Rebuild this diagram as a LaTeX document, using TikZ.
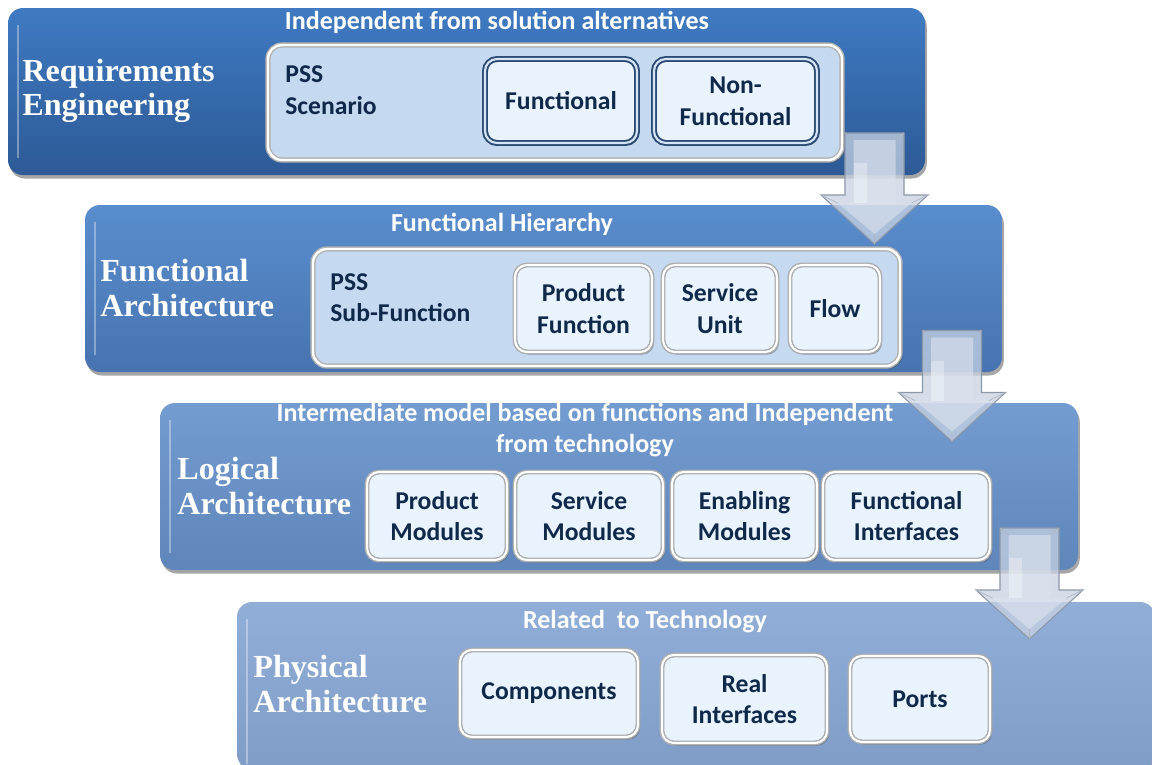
\documentclass[tikz,border=0pt]{standalone}
\usepackage{fontspec}
\setmainfont{Liberation Serif}
\newfontfamily\calibri{Carlito}
\usetikzlibrary{shadows}

\definecolor{bandA}{HTML}{3F7AC2}
\definecolor{bandAb}{HTML}{2D5A96}
\definecolor{bandB}{HTML}{5A8DCD}
\definecolor{bandBb}{HTML}{4774B0}
\definecolor{bandC}{HTML}{739CD0}
\definecolor{bandCb}{HTML}{5F86BA}
\definecolor{bandD}{HTML}{90AED8}
\definecolor{bandDb}{HTML}{809DC8}
\definecolor{panelblue}{HTML}{C5DAF1}
\definecolor{itemblue}{HTML}{E8F3FE}
\definecolor{navy}{HTML}{10294A}
\definecolor{navyedge}{HTML}{2B4B73}
\definecolor{arrowfill}{HTML}{C8D2E2}
\definecolor{arrowlight}{HTML}{DCE3EE}
\definecolor{arrowedge}{HTML}{8C97A8}

\begin{document}
\begin{tikzpicture}[x=0.02cm,y=-0.02cm,
    boxsize/.style 2 args={minimum width=#1*0.02cm,minimum height=#2*0.02cm},
    band/.style={rectangle,rounded corners=0.3cm,inner sep=0pt,outer sep=0pt,
        drop shadow={shadow xshift=1pt,shadow yshift=-2pt,opacity=.35,fill=black}},
    panel/.style={rectangle,rounded corners=0.28cm,inner sep=0pt,fill=panelblue,
        draw=gray!60,line width=0.8pt,double=white,double distance=1.4pt,
        drop shadow={shadow xshift=1.5pt,shadow yshift=-1.5pt,opacity=.45,fill=black!70}},
    item/.style={rectangle,rounded corners=0.24cm,inner sep=0pt,fill=itemblue,
        draw=gray!65,line width=0.8pt,double=white,double distance=1.2pt,
        drop shadow={shadow xshift=1.2pt,shadow yshift=-1.5pt,opacity=.45,fill=black!70},
        text=navy,align=center,font=\calibri\bfseries\fontsize{14.6pt}{18pt}\selectfont},
    darkitem/.style={item,draw=navyedge,line width=1.1pt,double=panelblue!70!white},
    bandlabel/.style={anchor=west,inner sep=0pt,align=left,text=white,
        font=\bfseries\fontsize{18.3pt}{19.5pt}\selectfont},
    heading/.style={inner sep=0pt,align=center,text=white,
        font=\calibri\bfseries\fontsize{14.8pt}{18pt}\selectfont},
    plain/.style={anchor=west,inner sep=0pt,align=left,text=navy,
        font=\calibri\bfseries\fontsize{14.6pt}{18pt}\selectfont}]

    \useasboundingbox (0,0) rectangle (1152,764);
    \clip (0,0) rectangle (1152,764);

    % --- requirements engineering
    \node[band,boxsize={917}{167},top color=bandA,bottom color=bandAb] (reqband) at (466.5,91.5) {};
    \draw[white,opacity=.35,line width=1.5pt] (18,25) -- (18,158);
    \node[heading] (reqhead) at (497,22) {Independent from solution alternatives};
    \node[bandlabel] (reqlabel) at (22,91) {Requirements\\Engineering};
    \node[panel,boxsize={574}{115}] (reqpanel) at (555,102.5) {};
    \node[plain] (pssscen) at (285,90) {PSS\\Scenario};
    \node[darkitem,boxsize={152}{84}] (func) at (561,101) {Functional};
    \node[darkitem,boxsize={163}{84}] (nonfunc) at (735.5,101) {Non-\\Functional};

    % --- functional architecture
    \node[band,boxsize={917}{167},top color=bandB,bottom color=bandBb] (funband) at (543.5,288.5) {};
    \draw[white,opacity=.35,line width=1.5pt] (95,222) -- (95,355);
    \node[heading] (funhead) at (502,224) {Functional Hierarchy};
    \node[bandlabel] (funlabel) at (100,288) {Functional\\Architecture};
    \node[panel,boxsize={587}{117}] (funpanel) at (606.5,307.5) {};
    \node[plain] (psssub) at (330,297.5) {PSS\\Sub-Function};
    \node[item,boxsize={137}{87}] (prodfunc) at (583.5,308.5) {Product\\Function};
    \node[item,boxsize={114}{87}] (servunit) at (720,308.5) {Service\\Unit};
    \node[item,boxsize={90}{87}] (flow) at (835,308.5) {Flow};

    % --- logical architecture
    \node[band,boxsize={918}{167},top color=bandC,bottom color=bandCb] (logband) at (619,486.5) {};
    \draw[white,opacity=.35,line width=1.5pt] (170,420) -- (170,553);
    \node[heading] (loghead) at (585,430) {Intermediate model based on functions and Independent\\from technology};
    \node[bandlabel] (loglabel) at (177,486) {Logical\\Architecture};
    \node[item,boxsize={140}{88}] (prodmod) at (437,516) {Product\\Modules};
    \node[item,boxsize={148}{88}] (servmod) at (589,516) {Service\\Modules};
    \node[item,boxsize={145}{88}] (enabmod) at (744.5,516) {Enabling\\Modules};
    \node[item,boxsize={167}{88}] (funcint) at (906.5,516) {Functional\\Interfaces};

    % --- physical architecture
    \node[band,boxsize={918}{167},top color=bandD,bottom color=bandDb] (phyband) at (696,685.5) {};
    \draw[white,opacity=.35,line width=1.5pt] (247,619) -- (247,764);
    \node[heading] (phyhead) at (645,622) {Related\ \ to Technology};
    \node[bandlabel] (phylabel) at (253,684) {Physical\\Architecture};
    \node[item,boxsize={178}{87}] (comp) at (549,693.5) {Components};
    \node[item,boxsize={165}{88}] (realint) at (744.5,699) {Real\\Interfaces};
    \node[item,boxsize={140}{86}] (ports) at (920,699) {Ports};

    % block arrows between the levels
    \foreach \cx/\ty in {874.5/133, 952/330.5, 1029.5/528} {
        \filldraw[fill=arrowfill,fill opacity=.75,draw=arrowedge,line width=0.6pt]
            ({\cx-29.5},{\ty}) -- ({\cx+29.5},{\ty}) -- ({\cx+29.5},{\ty+62}) --
            ({\cx+53.5},{\ty+62}) -- ({\cx},{\ty+111}) -- ({\cx-53.5},{\ty+62}) --
            ({\cx-29.5},{\ty+62}) -- cycle;
        \fill[arrowlight,fill opacity=.6]
            ({\cx-21},{\ty+7}) -- ({\cx+21},{\ty+7}) -- ({\cx+21},{\ty+70}) --
            ({\cx+37},{\ty+70}) -- ({\cx},{\ty+101}) -- ({\cx-37},{\ty+70}) --
            ({\cx-21},{\ty+70}) -- cycle;
        \fill[white,fill opacity=.3] ({\cx-21},{\ty+30}) rectangle ({\cx-8},{\ty+70});
        \draw[arrowedge!70,line width=0.4pt]
            ({\cx-29.5},{\ty}) -- ({\cx-21},{\ty+7})
            ({\cx+29.5},{\ty}) -- ({\cx+21},{\ty+7})
            ({\cx},{\ty+111}) -- ({\cx},{\ty+101})
            ({\cx-53.5},{\ty+62}) -- ({\cx-37},{\ty+70})
            ({\cx+53.5},{\ty+62}) -- ({\cx+37},{\ty+70});
    }
\end{tikzpicture}
\end{document}
